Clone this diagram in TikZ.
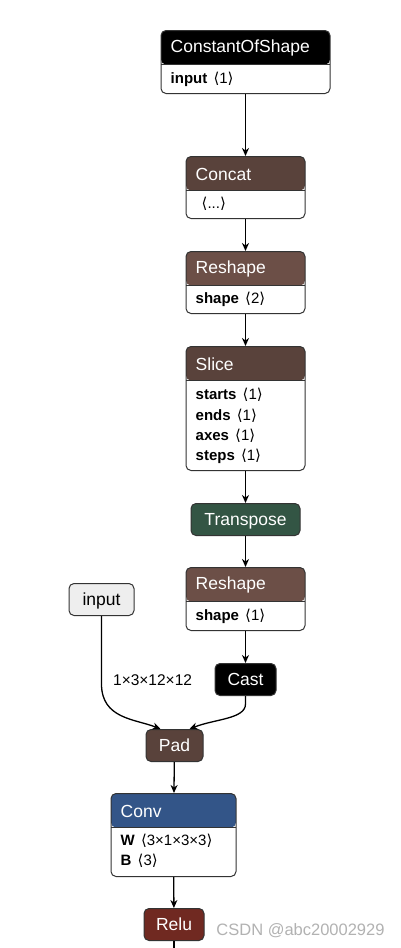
\documentclass[tikz,border=0pt]{standalone}
\usepackage{fontspec}
\setmainfont{Liberation Sans}
\newfontfamily\bracketfont{DejaVu Sans}
\usetikzlibrary{arrows.meta}
\definecolor{tensorcol}{RGB}{89,66,59}
\definecolor{shapecol}{RGB}{108,79,71}
\definecolor{transformcol}{RGB}{51,85,68}
\definecolor{layercol}{RGB}{51,85,136}
\definecolor{activcol}{RGB}{112,41,33}
\definecolor{bordercol}{RGB}{51,51,51}
\definecolor{inputcol}{RGB}{238,238,238}
\newcommand{\dims}[1]{{\mdseries\hspace{2pt}{\bracketfont ⟨}#1{\bracketfont ⟩}}}
\tikzset{
  opbox/.style={draw=bordercol, line width=1pt, rounded corners=5pt, fill=white,
    inner sep=0pt, anchor=north,
    path picture={
      \fill[#1] (path picture bounding box.north west) rectangle
        ([yshift=-34pt]path picture bounding box.north east);
      \draw[bordercol, line width=1pt] ([yshift=-34pt]path picture bounding box.north west) --
        ([yshift=-34pt]path picture bounding box.north east);
    }},
  optitle/.style={anchor=west, text=white, inner sep=0pt, font=\fontsize{17.5}{20}\selectfont},
  opattr/.style={anchor=west, inner sep=0pt, font=\fontsize{15}{18}\selectfont},
  oppill/.style={draw=bordercol, line width=1pt, rounded corners=5pt, fill=#1, text=white,
    minimum height=32pt, inner xsep=0pt, text height=12.5pt, text depth=0pt,
    anchor=north, font=\fontsize{17.5}{20}\selectfont},
  edge/.style={line width=1.3pt, -{Stealth[length=8pt, width=7pt, inset=2.5pt]}},
}
\begin{document}
\begin{tikzpicture}[x=1pt, y=-1pt]
  \useasboundingbox[fill=white] (0,0) rectangle (400,948);
  % --- Main chain ---
  \node[opbox=black, minimum width=169, minimum height=63] (constshape) at (245.5,30) {};
  \node[optitle] at ([xshift=10pt, yshift=-18pt]constshape.north west) {ConstantOfShape};
  \node[opattr] at ([xshift=10pt, yshift=-49pt]constshape.north west) {\bfseries input \dims{1}};

  \node[opbox=tensorcol, minimum width=119, minimum height=62] (concat) at (245.5,156) {};
  \node[optitle] at ([xshift=10pt, yshift=-18pt]concat.north west) {Concat};
  \node[opattr] at ([xshift=14pt, yshift=-48pt]concat.north west) {\dims{...}};

  \node[opbox=shapecol, minimum width=119, minimum height=62] (reshapeA) at (245.5,251) {};
  \node[optitle] at ([xshift=10pt, yshift=-18pt]reshapeA.north west) {Reshape};
  \node[opattr] at ([xshift=10pt, yshift=-48pt]reshapeA.north west) {\bfseries shape \dims{2}};

  \node[opbox=tensorcol, minimum width=119, minimum height=124] (slice) at (245.5,346) {};
  \node[optitle] at ([xshift=10pt, yshift=-18pt]slice.north west) {Slice};
  \foreach \attr [count=\i] in {starts, ends, axes, steps}
    \node[opattr] at ([xshift=10pt, yshift={-49pt-20.4pt*(\i-1)}]slice.north west) {\bfseries \attr\ \dims{1}};

  \node[oppill=transformcol, minimum width=109] (transpose) at (245.5,503) {Transpose};

  \node[opbox=shapecol, minimum width=119, minimum height=63] (reshapeB) at (245.5,567) {};
  \node[optitle] at ([xshift=10pt, yshift=-18pt]reshapeB.north west) {Reshape};
  \node[opattr] at ([xshift=10pt, yshift=-49pt]reshapeB.north west) {\bfseries shape \dims{1}};

  \node[oppill=black, minimum width=61] (cast) at (245.5,663) {Cast};

  % --- Graph input ---
  \node[oppill=inputcol, text=black, minimum width=65] (input) at (101.5,583) {input};

  \node[oppill=tensorcol, minimum width=57] (pad) at (174.5,729) {Pad};

  \node[opbox=layercol, minimum width=125, minimum height=83] (conv) at (173.5,793) {};
  \node[optitle] at ([xshift=10pt, yshift=-18pt]conv.north west) {Conv};
  \node[opattr] at ([xshift=10pt, yshift=-48pt]conv.north west) {\bfseries W \dims{3×1×3×3}};
  \node[opattr] at ([xshift=10pt, yshift=-68pt]conv.north west) {\bfseries B \dims{3}};

  \node[oppill=activcol, minimum width=60] (relu) at (174,908) {Relu};
  \coordinate (reluout) at (174,950);

  % --- Edges ---
  \draw[edge] (constshape) -- (concat);
  \draw[edge] (concat) -- (reshapeA);
  \draw[edge] (reshapeA) -- (slice);
  \draw[edge] (slice) -- (transpose);
  \draw[edge] (transpose) -- (reshapeB);
  \draw[edge] (reshapeB) -- (cast);
  \draw[edge] (input.south) -- ++(0,68) .. controls +(0,35) and +(-25,-10) .. ([xshift=-14pt]pad.north)
    node[pos=0, anchor=west, inner sep=0pt, xshift=11pt, yshift=4pt, font=\fontsize{15.5}{18}\selectfont] {1×3×12×12};
  \draw[edge] (cast.south) -- ++(0,8) .. controls +(0,15) and +(25,-10) .. ([xshift=15pt]pad.north);
  \draw[edge] (pad) -- (conv);
  \draw[edge] (conv) -- (relu);
  \draw[line width=1.3pt] (relu) -- (reluout);

  % --- Watermark ---
  \node[text=black!30, font=\fontsize{16.5}{19}\selectfont] (mark) at (300.5,931) {CSDN @abc20002929};
\end{tikzpicture}
\end{document}
